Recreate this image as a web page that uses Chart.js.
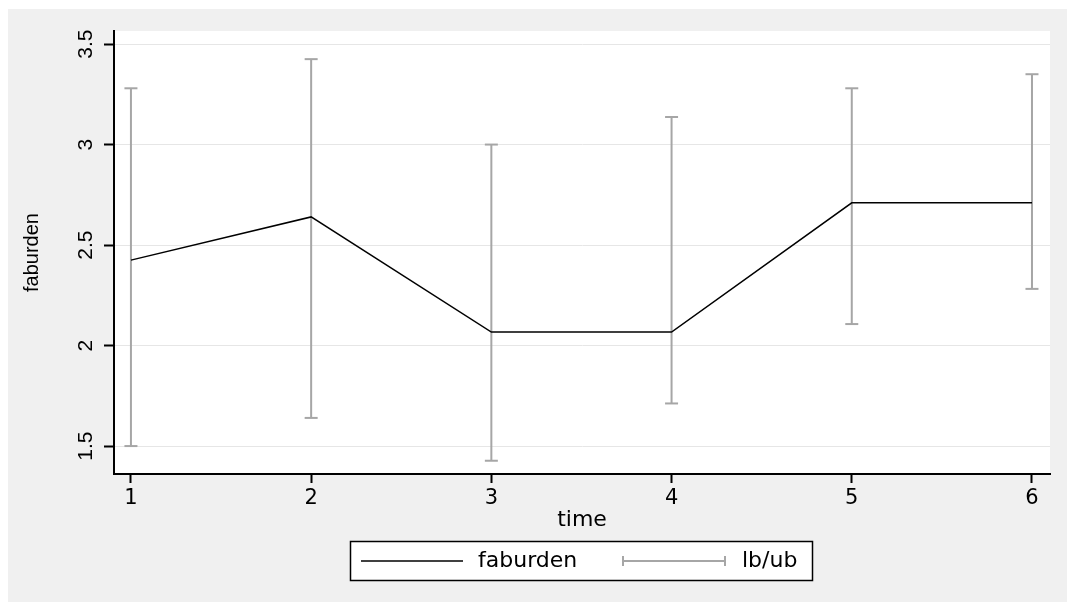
<!DOCTYPE html>
<html><head><meta charset="utf-8">
<script src="https://cdn.jsdelivr.net/npm/chart.js@4"></script>
<style>
html,body{margin:0;padding:0;background:#fff;overflow:hidden;}
#wrap{position:absolute;left:8px;top:9px;width:1059px;height:593px;background:#f0f0f0;}
canvas{display:block;}
</style></head><body>
<div id="wrap"><canvas id="c" width="1059" height="593"></canvas></div>
<script>
// ---- data ----
const timeValues = [1, 2, 3, 4, 5, 6];
const faburden   = [2.425, 2.64, 2.067, 2.067, 2.71, 2.71];
const lowerBound = [1.50, 1.64, 1.427, 1.712, 2.107, 2.282];
const upperBound = [3.28, 3.425, 3.00, 3.137, 3.28, 3.35];
const xTickValues = [1, 2, 3, 4, 5, 6];
const xTickLabels = ['1', '2', '3', '4', '5', '6'];
const yTickValues = [1.5, 2, 2.5, 3, 3.5];
const yTickLabels = ['1.5', '2', '2.5', '3', '3.5'];
const seriesNames = ['faburden', 'lb/ub'];
const xTitle = 'time';
const yTitle = 'faburden';

const BLACK = '#000000';
const GRAY = '#a6a6a6';

const lineData = timeValues.map((x, i) => ({x: x, y: faburden[i]}));
const errData = [];
timeValues.forEach((x, i) => {
  errData.push({x: x, y: lowerBound[i]});
  errData.push({x: x, y: upperBound[i]});
  errData.push({x: x, y: null});
});

const plotBg = {
  id: 'plotBg',
  beforeDraw(chart) {
    const {ctx, chartArea: a} = chart;
    ctx.save();
    ctx.fillStyle = '#ffffff';
    ctx.fillRect(a.left, a.top, a.right - a.left, a.bottom - a.top);
    ctx.restore();
  }
};

const rotatedYTicks = {
  id: 'rotatedYTicks',
  afterDraw(chart) {
    const ctx = chart.ctx, ys = chart.scales.y;
    ctx.save();
    ctx.fillStyle = BLACK;
    ctx.font = '21px "Liberation Sans", Arial, sans-serif';
    ctx.textAlign = 'center';
    ctx.textBaseline = 'middle';
    yTickValues.forEach((v, i) => {
      const y = ys.getPixelForValue(v);
      ctx.save();
      ctx.translate(ys.left + 78.5, y);
      ctx.rotate(-Math.PI / 2);
      ctx.fillText(yTickLabels[i], 0, 0);
      ctx.restore();
    });
    ctx.restore();
  }
};

const boxLegend = {
  id: 'boxLegend',
  afterDraw(chart) {
    const ctx = chart.ctx;
    const cx = (chart.chartArea.left + chart.chartArea.right) / 2;
    const left = cx - 232, top = 532, w = 462, h = 39, cy = top + 20;
    ctx.save();
    ctx.fillStyle = '#ffffff';
    ctx.fillRect(left, top, w, h);
    ctx.strokeStyle = BLACK;
    ctx.lineWidth = 1.5;
    ctx.strokeRect(left + 0.5, top + 0.5, w, h);
    ctx.beginPath();
    ctx.moveTo(left + 11, cy);
    ctx.lineTo(left + 113, cy);
    ctx.lineWidth = 1.5;
    ctx.stroke();
    ctx.strokeStyle = GRAY;
    ctx.lineWidth = 2;
    ctx.beginPath();
    ctx.moveTo(left + 273, cy); ctx.lineTo(left + 375, cy);
    ctx.moveTo(left + 273, cy - 5); ctx.lineTo(left + 273, cy + 5);
    ctx.moveTo(left + 375, cy - 5); ctx.lineTo(left + 375, cy + 5);
    ctx.stroke();
    ctx.fillStyle = BLACK;
    ctx.font = '22px "DejaVu Sans", sans-serif';
    ctx.textAlign = 'left';
    ctx.textBaseline = 'middle';
    ctx.fillText(seriesNames[0], left + 128, cy);
    ctx.fillText(seriesNames[1], left + 392, cy);
    ctx.restore();
  }
};

new Chart(document.getElementById('c'), {
  type: 'scatter',
  data: {
    datasets: [
      {
        label: seriesNames[0],
        data: lineData,
        showLine: true,
        borderColor: BLACK,
        borderWidth: 1.5,
        pointRadius: 0,
        pointHoverRadius: 0,
        tension: 0
      },
      {
        label: seriesNames[1],
        data: errData,
        showLine: true,
        spanGaps: false,
        borderColor: GRAY,
        borderWidth: 2,
        pointStyle: 'line',
        pointRadius: 6.5,
        pointHoverRadius: 6.5,
        pointBorderColor: GRAY,
        pointBorderWidth: 2,
        pointBackgroundColor: GRAY
      }
    ]
  },
  options: {
    responsive: false,
    devicePixelRatio: 1,
    animation: false,
    events: [],
    layout: {padding: {left: 0, top: 22, right: 17, bottom: 62}},
    plugins: {
      legend: {display: false},
      tooltip: {enabled: false}
    },
    scales: {
      x: {
        type: 'linear',
        min: 0.906,
        max: 6.1,
        afterBuildTicks: s => { s.ticks = xTickValues.map(v => ({value: v})); },
        afterFit: s => { s.height = 66; },
        ticks: {
          autoSkip: false,
          maxRotation: 0,
          minRotation: 0,
          padding: 3,
          color: BLACK,
          font: {family: '"DejaVu Sans", sans-serif', size: 21},
          callback: (v) => xTickLabels[xTickValues.indexOf(v)]
        },
        grid: {
          drawOnChartArea: false,
          drawTicks: true,
          tickLength: 9,
          tickColor: BLACK,
          tickWidth: 2
        },
        border: {display: true, color: BLACK, width: 2},
        title: {
          display: true,
          text: xTitle,
          color: BLACK,
          font: {family: '"DejaVu Sans", sans-serif', size: 22},
          padding: {top: 0, bottom: 7}
        }
      },
      y: {
        type: 'linear',
        min: 1.361,
        max: 3.565,
        afterBuildTicks: s => { s.ticks = yTickValues.map(v => ({value: v})); },
        afterFit: s => { s.width = 106; },
        ticks: {display: false},
        grid: {
          color: '#e6e6e6',
          lineWidth: 1,
          drawTicks: true,
          tickLength: 10,
          tickColor: BLACK,
          tickWidth: 2
        },
        border: {display: true, color: BLACK, width: 2},
        title: {
          display: true,
          text: yTitle,
          color: BLACK,
          font: {family: '"Liberation Sans", Arial, sans-serif', size: 20},
          padding: {top: 12, bottom: 0}
        }
      }
    }
  },
  plugins: [plotBg, rotatedYTicks, boxLegend]
});
</script>
</body></html>
